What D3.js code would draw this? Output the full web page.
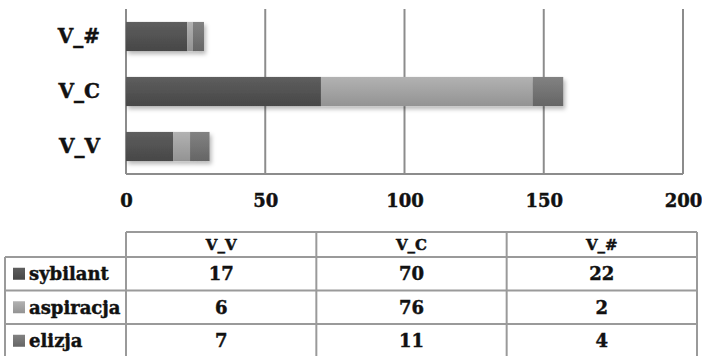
<!DOCTYPE html>
<html>
<head>
<meta charset="utf-8">
<script src="https://cdn.jsdelivr.net/npm/d3@7"></script>
<style>
  body { margin: 0; background: #fff; }
  svg { display: block; font-family: "DejaVu Serif", serif; font-weight: bold; }
  svg text { stroke: #111; stroke-width: 0.45px; }
  .axis path { display: none; }
  .axis text { fill: #111; font-weight: bold; font-family: "DejaVu Serif", serif; }
</style>
</head>
<body>
<svg width="702" height="356"></svg>
<script>
const categories = ["V_V", "V_C", "V_#"];
const seriesNames = ["sybilant", "aspiracja", "elizja"];
const sybilant = [17, 70, 22];
const aspiracja = [6, 76, 2];
const elizja = [7, 11, 4];
const xTicks = [0, 50, 100, 150, 200];

const values = [sybilant, aspiracja, elizja];
const data = categories.map((c, i) => {
  const row = { cat: c };
  seriesNames.forEach((s, j) => { row[s] = values[j][i]; });
  return row;
});

const svg = d3.select("svg");
const plot = { left: 126, right: 683, top: 9, bottom: 174 };

const x = d3.scaleLinear().domain([0, 200]).range([plot.left, plot.right]);
const y = d3.scaleBand()
  .domain(categories.slice().reverse())
  .range([plot.top, plot.bottom])
  .paddingInner(0.47)
  .paddingOuter(0.235);

// gradients per series (top -> bottom)
const shades = {
  sybilant: ["#5e5e5e", "#474747"],
  aspiracja: ["#b2b2b2", "#939393"],
  elizja: ["#828282", "#656565"]
};
const defs = svg.append("defs");
seriesNames.forEach((s) => {
  const g = defs.append("linearGradient").attr("id", "g-" + s)
    .attr("x1", 0).attr("y1", 0).attr("x2", 0).attr("y2", 1);
  g.append("stop").attr("offset", "0%").attr("stop-color", shades[s][0]);
  g.append("stop").attr("offset", "100%").attr("stop-color", shades[s][1]);
});
defs.append("filter").attr("id", "shadow")
  .attr("x", "-10%").attr("y", "-20%").attr("width", "130%").attr("height", "160%")
  .append("feDropShadow")
  .attr("dx", 2).attr("dy", 3).attr("stdDeviation", 2)
  .attr("flood-color", "#000").attr("flood-opacity", 0.28);

// gridlines
svg.append("g")
  .selectAll("line")
  .data(xTicks)
  .join("line")
  .attr("x1", (d) => x(d)).attr("x2", (d) => x(d))
  .attr("y1", plot.top).attr("y2", plot.bottom)
  .attr("stroke", "#8c8c8c")
  .attr("stroke-width", 2);

// baseline
svg.append("line")
  .attr("x1", plot.left).attr("x2", plot.right)
  .attr("y1", plot.bottom).attr("y2", plot.bottom)
  .attr("stroke", "#8c8c8c").attr("stroke-width", 2);

// stacked bars
const stack = d3.stack().keys(seriesNames)(data);
svg.append("g")
  .attr("filter", "url(#shadow)")
  .selectAll("g")
  .data(stack)
  .join("g")
  .attr("fill", (d) => `url(#g-${d.key})`)
  .selectAll("rect")
  .data((d) => d)
  .join("rect")
  .attr("x", (d) => x(d[0]))
  .attr("y", (d) => y(d.data.cat))
  .attr("width", (d) => x(d[1]) - x(d[0]))
  .attr("height", y.bandwidth());

// x axis labels
svg.append("g")
  .attr("class", "axis")
  .attr("transform", `translate(0,${plot.bottom})`)
  .call(d3.axisBottom(x).tickValues(xTicks).tickSize(0).tickPadding(20))
  .selectAll("text")
  .style("font-size", "18px");

// y axis labels
svg.append("g")
  .attr("class", "axis")
  .attr("transform", `translate(${plot.left},0)`)
  .call(d3.axisLeft(y).tickSize(0).tickPadding(26))
  .selectAll("text")
  .style("font-size", "20px");

// data table
const tbl = { left: 5, colStart: 126, right: 697, top: 232, headH: 25, rowH: 33.5 };
const col = d3.scaleBand().domain(categories).range([tbl.colStart, tbl.right]);
const row = d3.scaleBand().domain(seriesNames)
  .range([tbl.top + tbl.headH, tbl.top + tbl.headH + tbl.rowH * seriesNames.length]);
const tableBottom = row.range()[1];
const border = "#9a9a9a";
const t = svg.append("g");

// horizontal lines
t.append("line")
  .attr("x1", tbl.colStart).attr("x2", tbl.right)
  .attr("y1", tbl.top).attr("y2", tbl.top)
  .attr("stroke", border).attr("stroke-width", 2);
t.selectAll("line.h")
  .data(seriesNames)
  .join("line")
  .attr("class", "h")
  .attr("x1", tbl.left).attr("x2", tbl.right)
  .attr("y1", (d) => row(d)).attr("y2", (d) => row(d))
  .attr("stroke", border).attr("stroke-width", 2);
t.append("line")
  .attr("x1", tbl.left).attr("x2", tbl.right)
  .attr("y1", tableBottom).attr("y2", tableBottom)
  .attr("stroke", border).attr("stroke-width", 2);

// vertical lines
t.append("line")
  .attr("x1", tbl.left).attr("x2", tbl.left)
  .attr("y1", row(seriesNames[0])).attr("y2", tableBottom)
  .attr("stroke", border).attr("stroke-width", 2);
t.selectAll("line.v")
  .data(categories.map((c) => col(c)).concat([tbl.right]))
  .join("line")
  .attr("class", "v")
  .attr("x1", (d) => d).attr("x2", (d) => d)
  .attr("y1", tbl.top).attr("y2", tableBottom)
  .attr("stroke", border).attr("stroke-width", 2);

// header text
t.selectAll("text.head")
  .data(categories)
  .join("text")
  .attr("class", "head")
  .attr("x", (d) => col(d) + col.bandwidth() / 2)
  .attr("y", tbl.top + tbl.headH / 2)
  .attr("dy", "0.36em")
  .attr("text-anchor", "middle")
  .attr("font-size", 15)
  .attr("fill", "#111")
  .text((d) => d);

// row labels with legend keys
const rows = t.selectAll("g.row")
  .data(seriesNames.map((s, j) => ({ name: s, vals: values[j] })))
  .join("g")
  .attr("class", "row")
  .attr("transform", (d) => `translate(0,${row(d.name) + row.bandwidth() / 2})`);

rows.append("rect")
  .attr("x", 13).attr("y", -6)
  .attr("width", 12).attr("height", 12)
  .attr("fill", (d) => `url(#g-${d.name})`);

rows.append("text")
  .attr("x", 29)
  .attr("dy", "0.36em")
  .attr("font-size", 18)
  .attr("fill", "#111")
  .text((d) => d.name);

rows.selectAll("text.val")
  .data((d) => d.vals.map((v, i) => ({ v, cat: categories[i] })))
  .join("text")
  .attr("class", "val")
  .attr("x", (d) => col(d.cat) + col.bandwidth() / 2)
  .attr("dy", "0.36em")
  .attr("text-anchor", "middle")
  .attr("font-size", 18)
  .attr("fill", "#111")
  .text((d) => d.v);
</script>
</body>
</html>
